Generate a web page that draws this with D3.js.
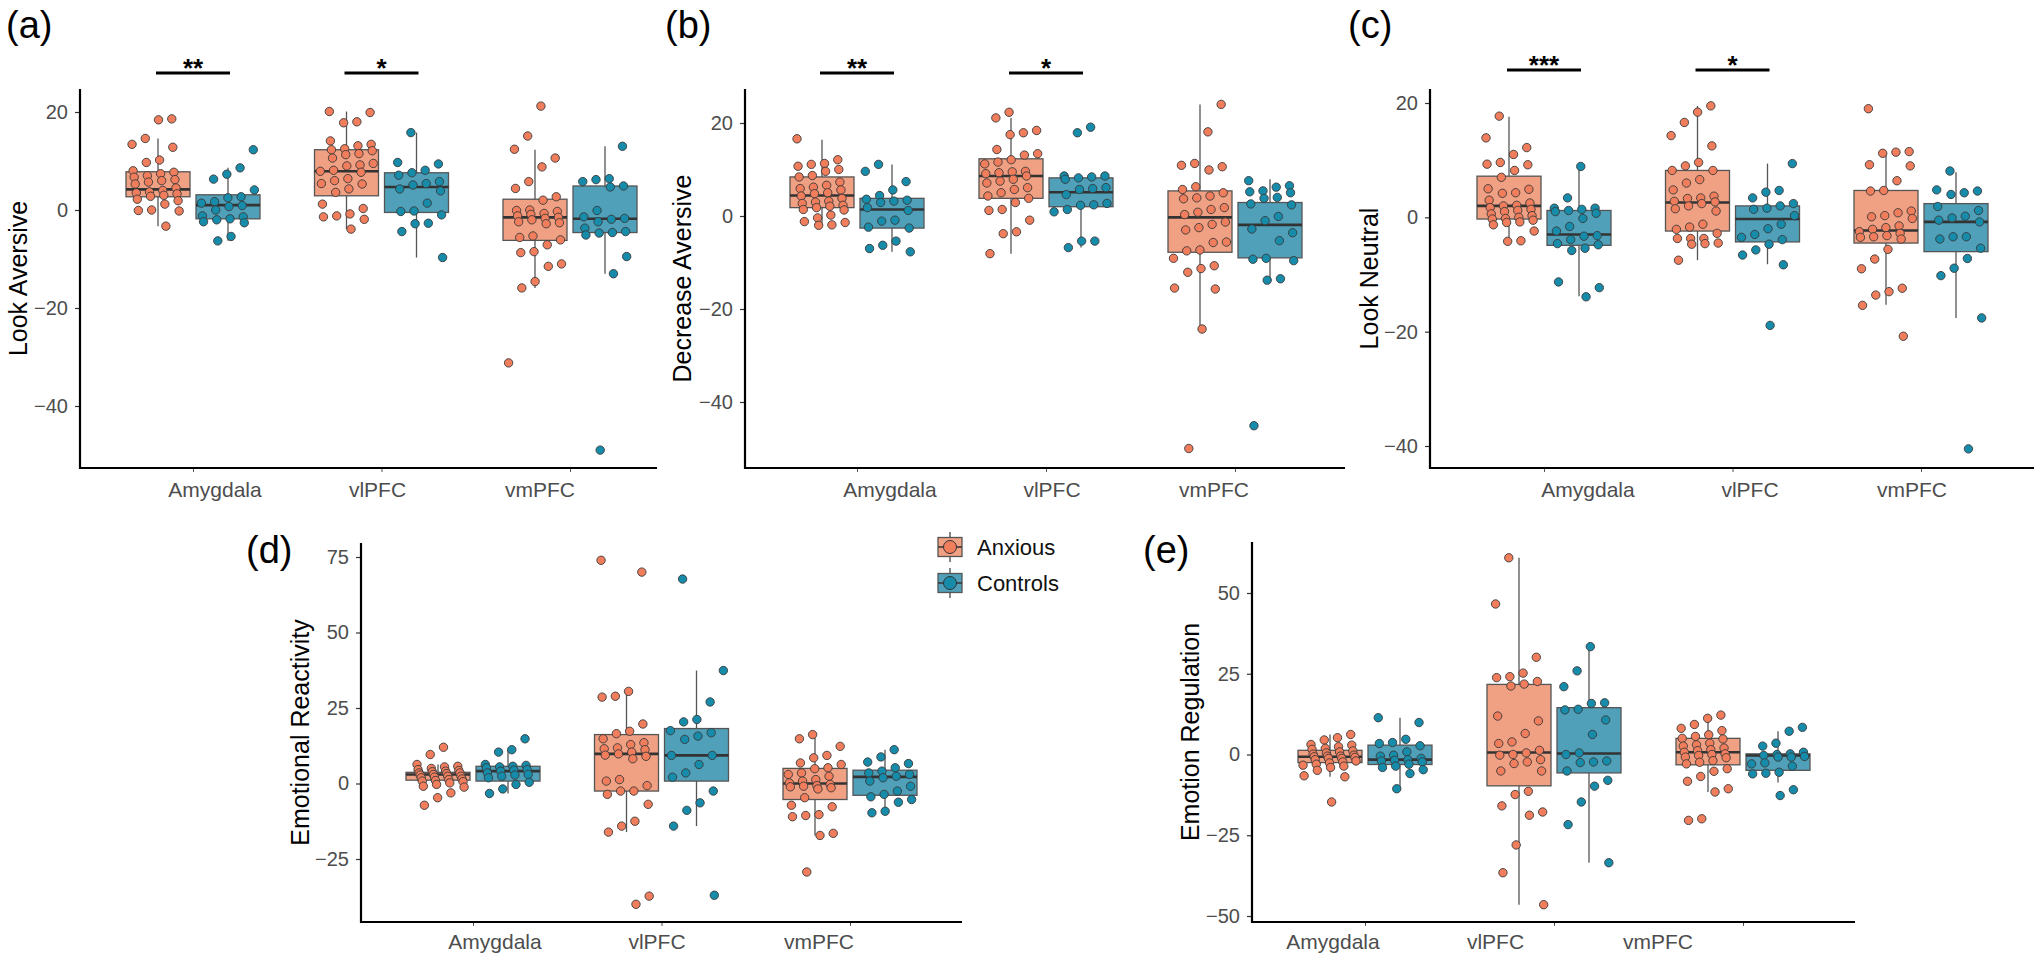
<!DOCTYPE html>
<html><head><meta charset="utf-8">
<script src="https://cdn.jsdelivr.net/npm/d3@7"></script>
<style>body{margin:0;background:#fff;} svg{display:block;} text{font-family:"Liberation Sans", Arial, sans-serif;}</style>
</head><body><svg id="c" width="2040" height="961"></svg>
<script>
// ---------- categories ----------
const regions = ["Amygdala", "vlPFC", "vmPFC"];
const groups = ["Anxious", "Controls"];
const panelLetters = ["(a)", "(b)", "(c)", "(d)", "(e)"];
const yTitles = ["Look Aversive", "Decrease Aversive", "Look Neutral", "Emotional Reactivity", "Emotion Regulation"];
const ticksABC = [20, 0, -20, -40];
const ticksD = [75, 50, 25, 0, -25];
const ticksE = [50, 25, 0, -25, -50];
const sigAB = [["Amygdala", "**"], ["vlPFC", "*"]];
const sigC = [["Amygdala", "***"], ["vlPFC", "*"]];

// ---------- (a) Look Aversive ----------
const a_amy_anx = [18.6, 18.4, 14.6, 13.4, 12.8, 10.2, 9.7, 8.0, 7.7, 7.4, 7.0, 6.7, 6.2, 6.0, 5.7, 5.3, 4.5, 4.0, 3.7, 3.5, 3.3, 3.0, 2.8, 2.2, 1.9, 1.2, 0.0, -0.1, -0.2, -3.3];
const a_amy_ctl = [12.3, 8.6, 7.3, 6.3, 4.1, 2.7, 2.5, 1.7, 1.4, 0.9, 0.7, 0.0, -1.2, -1.4, -1.8, -2.0, -2.4, -2.6, -5.4, -6.3];
const a_vl_anx = [20.1, 19.9, 18.0, 17.8, 14.1, 13.4, 13.1, 12.5, 12.3, 12.1, 11.5, 11.3, 10.6, 9.5, 9.2, 9.0, 8.1, 7.9, 7.7, 6.4, 6.0, 5.4, 5.3, 4.3, 3.6, 1.2, 0.3, -0.8, -1.2, -1.4, -1.9, -3.9];
const a_vl_ctl = [15.8, 9.7, 9.4, 8.1, 7.6, 7.1, 5.8, 5.4, 5.1, 4.3, 3.9, 1.4, -0.2, -0.3, -1.0, -2.7, -2.8, -4.4, -9.7];
const a_vm_anx = [21.2, 15.1, 12.4, 10.6, 8.8, 5.8, 4.4, 2.7, 2.0, 0.0, -0.1, -0.3, -0.7, -0.9, -1.2, -1.5, -1.7, -2.0, -2.4, -2.6, -2.8, -5.3, -5.6, -6.1, -7.1, -8.5, -8.7, -11.0, -11.5, -14.6, -15.9, -31.2];
const a_vm_ctl = [13.0, 6.4, 6.2, 5.8, 4.9, 4.7, -0.1, -1.4, -1.7, -1.9, -2.4, -3.7, -4.4, -4.6, -4.7, -5.1, -9.5, -13.0, -49.0];
// box stats: [lower whisker, Q1, median, Q3, upper whisker] per region
const a_box_anx = [[-3.3, 2.7, 4.2, 7.8, 14.6], [-3.9, 2.9, 7.9, 12.3, 20.1], [-15.9, -6.2, -1.5, 2.2, 12.3]];
const a_box_ctl = [[-6.3, -1.8, 1.0, 3.1, 8.6], [-9.7, -0.5, 4.7, 7.6, 15.8], [-13.0, -4.6, -1.8, 4.9, 13.0]];

// ---------- (b) Decrease Aversive ----------
const b_amy_anx = [16.6, 12.1, 11.3, 11.1, 10.7, 10.0, 9.6, 8.7, 8.4, 7.3, 6.6, 6.2, 5.9, 5.6, 5.0, 4.8, 4.3, 3.8, 3.2, 3.0, 2.7, 2.3, 2.1, 1.8, 1.4, 1.3, 0.2, -0.4, -1.2, -1.4, -1.9, -2.0];
const b_amy_ctl = [11.1, 9.6, 7.4, 5.6, 4.4, 3.6, 3.4, 3.2, 2.9, 1.8, 1.2, -0.9, -1.1, -2.4, -2.6, -5.4, -6.3, -7.0, -7.7];
const b_vl_anx = [22.3, 21.1, 18.4, 17.9, 17.5, 14.3, 13.4, 13.1, 12.1, 11.6, 11.2, 9.6, 9.5, 9.3, 9.1, 8.6, 7.9, 7.5, 7.1, 6.1, 5.7, 5.0, 4.3, 3.8, 2.9, 1.4, 1.2, -0.9, -3.4, -3.8, -8.1];
const b_vl_ctl = [19.1, 17.9, 8.6, 8.6, 8.4, 8.2, 7.9, 6.1, 5.9, 5.7, 4.6, 2.7, 2.4, 2.3, 1.4, 0.9, -5.4, -5.4, -6.8];
const b_vm_anx = [24.0, 18.1, 11.3, 10.9, 10.6, 9.9, 6.3, 5.7, 5.0, 4.3, 3.9, 3.7, 1.8, 1.4, 0.8, 0.3, -1.3, -1.8, -2.5, -3.0, -5.6, -5.7, -7.3, -7.5, -9.1, -10.7, -11.3, -12.1, -15.5, -15.7, -24.3, -50.0];
const b_vm_ctl = [7.6, 6.5, 6.2, 5.4, 5.2, 5.0, 4.0, 3.8, 2.6, 2.4, -0.1, -1.0, -2.8, -3.6, -5.3, -9.1, -9.3, -9.6, -13.5, -13.8, -45.1];
const b_box_anx = [[-2.0, 1.8, 4.4, 8.4, 16.4], [-8.1, 3.8, 8.6, 12.3, 21.1], [-24.3, -7.8, -0.3, 5.4, 24.0]];
const b_box_ctl = [[-7.7, -2.6, 1.4, 3.8, 11.1], [-6.8, 2.0, 5.1, 8.2, 8.6], [-13.8, -9.0, -1.9, 2.9, 7.9]];

// ---------- (c) Look Neutral ----------
const c_amy_anx = [17.7, 13.9, 12.2, 11.0, 9.6, 9.3, 9.2, 8.2, 7.0, 5.0, 4.9, 4.3, 4.2, 3.0, 2.5, 2.1, 2.0, 1.7, 1.4, 1.2, 1.0, 0.6, 0.3, 0.0, -0.2, -0.3, -0.5, -0.8, -0.9, -1.3, -2.4, -4.1, -4.2];
const c_amy_ctl = [8.9, 3.4, 1.6, 1.6, 1.4, 1.2, 1.0, 0.7, -0.2, -1.6, -2.4, -3.2, -3.3, -3.9, -4.6, -4.8, -5.4, -5.8, -11.3, -12.3, -13.9];
const c_vl_anx = [19.5, 18.4, 16.6, 14.3, 12.5, 9.6, 9.0, 8.2, 8.2, 6.6, 6.0, 4.8, 3.7, 3.4, 3.3, 2.8, 2.7, 2.4, 2.0, 1.5, 1.1, -1.2, -1.7, -2.1, -2.8, -3.7, -3.7, -3.7, -4.5, -4.6, -4.7, -7.5];
const c_vl_ctl = [9.4, 4.7, 4.4, 3.4, 2.4, 2.0, 1.6, 1.4, 0.3, -1.2, -2.0, -3.0, -3.5, -3.9, -4.7, -5.7, -6.6, -8.3, -18.9];
const c_vm_anx = [19.0, 11.5, 11.4, 11.2, 9.2, 9.0, 6.4, 4.7, 4.6, 1.1, 0.8, 0.3, 0.1, -0.2, -1.5, -1.8, -2.1, -2.5, -2.8, -3.2, -3.4, -3.5, -3.8, -5.6, -7.3, -9.0, -12.4, -13.0, -13.6, -15.4, -20.8];
const c_vm_ctl = [8.1, 4.8, 4.6, 4.3, 4.0, 1.9, 1.2, 0.2, -0.1, -0.5, -0.8, -3.4, -3.4, -3.8, -5.4, -7.2, -8.9, -10.2, -17.6, -40.5];
const c_box_anx = [[-4.2, -0.3, 2.0, 7.2, 17.6], [-7.5, -2.4, 2.6, 8.2, 19.5], [-15.3, -4.5, -2.3, 4.7, 11.4]];
const c_box_ctl = [[-13.8, -4.9, -3.0, 1.2, 8.8], [-8.2, -4.3, -0.3, 2.0, 9.4], [-17.6, -6.0, -0.8, 2.4, 7.9]];

// ---------- (d) Emotional Reactivity ----------
const d_amy_anx = [12.0, 9.6, 6.3, 5.7, 5.5, 5.0, 4.6, 4.3, 4.1, 3.9, 3.5, 3.5, 3.3, 3.0, 2.8, 2.4, 2.4, 2.1, 1.9, 1.5, 1.3, 1.0, 0.8, 0.6, 0.2, -0.3, -0.9, -1.2, -3.1, -4.7, -7.2];
const d_amy_ctl = [14.8, 11.2, 10.4, 6.3, 6.0, 5.7, 5.5, 5.2, 4.6, 4.4, 4.1, 3.5, 3.0, 2.8, 2.4, 1.9, 0.4, -0.3, -1.8, -3.3];
const d_vl_anx = [73.9, 70.0, 30.5, 28.9, 28.6, 19.7, 17.3, 16.5, 14.8, 13.5, 12.9, 11.8, 11.5, 11.2, 10.4, 9.8, 9.4, 9.0, 8.2, 1.3, 0.8, -0.7, -2.5, -2.5, -3.6, -6.9, -12.5, -14.1, -16.1, -37.3, -40.0];
const d_vl_ctl = [67.7, 37.4, 27.0, 21.2, 20.4, 17.5, 16.8, 15.7, 14.6, 9.3, 9.3, 6.3, 3.5, 2.1, -2.5, -6.4, -8.9, -14.1, -37.0];
const d_vm_anx = [16.2, 14.8, 12.3, 9.3, 8.5, 6.8, 6.3, 5.2, 4.9, 3.5, 3.0, 2.4, 1.3, 0.8, 0.2, -0.3, -0.7, -0.9, -1.1, -1.4, -1.8, -4.7, -7.2, -7.7, -10.3, -10.6, -11.0, -16.5, -17.2, -29.3];
const d_vm_ctl = [11.2, 8.8, 7.1, 6.6, 5.2, 4.1, 3.5, 3.0, 2.4, 1.9, 0.8, -0.9, -2.5, -3.6, -4.4, -5.3, -6.2, -9.2, -9.7];
const d_box_anx = [[-1.2, 1.1, 3.0, 3.7, 6.3], [-16.1, -2.5, 9.8, 16.2, 30.5], [-17.2, -5.3, 0.0, 5.0, 16.2]];
const d_box_ctl = [[-3.3, 0.8, 4.1, 5.7, 11.2], [-14.1, 0.8, 9.3, 18.2, 37.4], [-9.7, -3.9, 2.2, 4.4, 11.2]];

// ---------- (e) Emotion Regulation ----------
const e_amy_anx = [6.2, 5.2, 4.5, 3.1, 2.9, 2.4, 1.9, 1.6, 1.1, 0.8, 0.5, 0.1, -0.2, -0.5, -0.5, -0.7, -0.9, -1.2, -1.2, -1.6, -2.0, -2.3, -2.6, -3.0, -3.3, -3.6, -4.0, -4.9, -6.6, -6.9, -14.7];
const e_amy_ctl = [11.4, 9.9, 4.7, 3.7, 3.4, 2.7, 0.8, -0.2, -0.5, -1.2, -1.6, -1.8, -2.0, -2.3, -3.0, -3.6, -4.0, -4.7, -5.9, -10.6];
const e_vl_anx = [60.9, 46.6, 30.1, 25.2, 24.1, 23.8, 22.6, 21.8, 21.2, 11.9, 10.4, 6.5, 3.9, 3.4, 1.3, 0.5, 0.0, -0.2, -1.6, -2.3, -2.8, -5.1, -5.1, -11.4, -12.4, -15.9, -17.8, -18.8, -28.0, -36.6, -46.5];
const e_vl_ctl = [33.4, 25.9, 21.0, 16.0, 15.8, 14.0, 13.8, 10.7, 6.2, 0.5, 0.0, -2.0, -2.3, -2.5, -5.1, -8.0, -9.8, -14.7, -21.7, -33.5];
const e_vm_anx = [12.2, 11.2, 9.3, 8.1, 7.4, 6.1, 5.6, 5.0, 4.8, 3.5, 3.0, 2.6, 2.0, 1.5, 1.2, 0.7, 0.2, 0.0, -0.3, -0.8, -1.0, -1.9, -2.4, -2.9, -4.4, -5.2, -6.8, -8.3, -10.6, -11.6, -19.9, -20.4];
const e_vm_ctl = [8.4, 7.2, 3.5, 2.6, 0.7, 0.2, 0.0, -0.3, -0.6, -0.8, -0.8, -2.6, -2.9, -3.6, -5.5, -5.8, -6.0, -10.9, -12.7];
const e_box_anx = [[-6.9, -2.5, -0.7, 1.3, 6.2], [-46.5, -9.7, 0.6, 21.7, 60.9], [-11.6, -3.2, 0.7, 5.0, 12.2]];
const e_box_ctl = [[-10.6, -3.1, -1.6, 2.9, 11.4], [-33.5, -5.7, 0.3, 14.5, 33.4], [-8.7, -4.9, -0.3, 0.2, 7.2]];

// ---------- styling ----------
const fillPoint = {Anxious: "#F07D5C", Controls: "#168BAA"};
const fillBox = {Anxious: "#F0A184", Controls: "#50A0BA"};
const tickColor = "#4D4D4D";

// ---------- layout (pixels) ----------
const layout = [
  {axisX: 80, xEnd: 657, top: 89, bottom: 468, yDom: [-40, 20], yPx: [406, 112], c: [193, 570], l: [215, 540], titleX: 18, letterX: 6, letterY: 38, labelY: 497, sigY: 73},
  {axisX: 745, xEnd: 1345, top: 89, bottom: 468, yDom: [-40, 20], yPx: [402, 123], c: [857, 1235], l: [890, 1214], titleX: 682, letterX: 665, letterY: 38, labelY: 497, sigY: 73},
  {axisX: 1430, xEnd: 2034, top: 89, bottom: 468, yDom: [-40, 20], yPx: [446, 103], c: [1544, 1921], l: [1588, 1912], titleX: 1369, letterX: 1348, letterY: 38, labelY: 497, sigY: 70},
  {axisX: 361, xEnd: 962, top: 543, bottom: 922, yDom: [-25, 75], yPx: [859, 557], c: [473, 850], l: [495, 819], titleX: 300, letterX: 246, letterY: 563, labelY: 949},
  {axisX: 1252, xEnd: 1855, top: 542, bottom: 922, yDom: [-50, 50], yPx: [916, 593], c: [1365, 1743], l: [1333, 1658], titleX: 1190, letterX: 1143, letterY: 563, labelY: 949}
];

const panelData = [
  {ticks: ticksABC, sig: sigAB, vals: [[a_amy_anx, a_amy_ctl], [a_vl_anx, a_vl_ctl], [a_vm_anx, a_vm_ctl]], box: [a_box_anx, a_box_ctl]},
  {ticks: ticksABC, sig: sigAB, vals: [[b_amy_anx, b_amy_ctl], [b_vl_anx, b_vl_ctl], [b_vm_anx, b_vm_ctl]], box: [b_box_anx, b_box_ctl]},
  {ticks: ticksABC, sig: sigC, vals: [[c_amy_anx, c_amy_ctl], [c_vl_anx, c_vl_ctl], [c_vm_anx, c_vm_ctl]], box: [c_box_anx, c_box_ctl]},
  {ticks: ticksD, sig: [], vals: [[d_amy_anx, d_amy_ctl], [d_vl_anx, d_vl_ctl], [d_vm_anx, d_vm_ctl]], box: [d_box_anx, d_box_ctl]},
  {ticks: ticksE, sig: [], vals: [[e_amy_anx, e_amy_ctl], [e_vl_anx, e_vl_ctl], [e_vm_anx, e_vm_ctl]], box: [e_box_anx, e_box_ctl]}
];

const svg = d3.select("#c");
const boxW = 64, jitterW = 27;

panelData.forEach((pd, pi) => {
  const L = layout[pi];
  const g = svg.append("g");
  const y = d3.scaleLinear().domain(L.yDom).range(L.yPx);
  const x = d3.scalePoint().domain(regions).range(L.c);
  const dx = d3.scalePoint().domain(groups).range([-35, 35]);
  const xl = d3.scalePoint().domain(regions).range(L.l);

  // y axis ticks
  const ya = g.append("g").attr("transform", `translate(${L.axisX},0)`)
    .call(d3.axisLeft(y).tickValues(pd.ticks).tickSize(5).tickPadding(7).tickFormat(d3.format("d")));
  ya.select(".domain").remove();
  ya.selectAll(".tick line").attr("stroke", "#333").attr("stroke-width", 1.2);
  ya.selectAll(".tick text").attr("font-size", 20).attr("fill", tickColor)
    .attr("font-family", "Liberation Sans, Arial, sans-serif");

  // x axis ticks
  const xa = g.append("g").attr("transform", `translate(0,${L.bottom})`)
    .call(d3.axisBottom(x).tickSize(4).tickFormat(""));
  xa.select(".domain").remove();
  xa.selectAll(".tick line").attr("stroke", "#555").attr("stroke-width", 1);

  // axis lines
  g.append("line").attr("x1", L.axisX).attr("x2", L.axisX).attr("y1", L.top).attr("y2", L.bottom + 1)
    .attr("stroke", "#000").attr("stroke-width", 2.2);
  g.append("line").attr("x1", L.axisX - 1).attr("x2", L.xEnd).attr("y1", L.bottom).attr("y2", L.bottom)
    .attr("stroke", "#000").attr("stroke-width", 2.2);

  // x labels
  g.selectAll("text.xl").data(regions).enter().append("text")
    .attr("x", d => xl(d)).attr("y", L.labelY).attr("text-anchor", "middle")
    .attr("font-size", 21).attr("fill", tickColor).text(d => d);

  // y title
  g.append("text").attr("transform", `translate(${L.titleX},${(L.top + L.bottom) / 2}) rotate(-90)`)
    .attr("text-anchor", "middle").attr("dominant-baseline", "central")
    .attr("font-size", 25).attr("fill", "#000").text(yTitles[pi]);

  // panel letter
  g.append("text").attr("x", L.letterX).attr("y", L.letterY).attr("font-size", 38).attr("fill", "#000").text(panelLetters[pi]);

  // boxes
  regions.forEach((r, ri) => {
    groups.forEach((gr, gi) => {
      const s = pd.box[gi][ri];
      const cx = x(r) + dx(gr);
      g.append("line").attr("x1", cx).attr("x2", cx).attr("y1", y(s[4])).attr("y2", y(s[0]))
        .attr("stroke", "#555").attr("stroke-width", 1.3);
      g.append("rect").attr("x", cx - boxW / 2).attr("width", boxW)
        .attr("y", y(s[3])).attr("height", Math.max(1, y(s[1]) - y(s[3])))
        .attr("fill", fillBox[gr]).attr("stroke", "#555").attr("stroke-width", 1.3);
      g.append("line").attr("x1", cx - boxW / 2).attr("x2", cx + boxW / 2).attr("y1", y(s[2])).attr("y2", y(s[2]))
        .attr("stroke", "#333").attr("stroke-width", 2.6);
    });
  });

  // points (deterministic jitter)
  regions.forEach((r, ri) => {
    groups.forEach((gr, gi) => {
      const vals = pd.vals[ri][gi];
      const seed = (pi * 6 + ri * 2 + gi) * 0.2137;
      g.selectAll(null).data(vals).enter().append("circle")
        .attr("cx", (v, i) => x(r) + dx(gr) + ((((i + 1) * 0.7548776662 + seed) % 1) - 0.5) * 2 * jitterW)
        .attr("cy", v => y(v)).attr("r", 4.2)
        .attr("fill", fillPoint[gr]).attr("stroke", "#3a3a3a").attr("stroke-width", 0.9);
    });
  });

  // significance bars
  pd.sig.forEach(([r, label]) => {
    const cx = x(r);
    g.append("line").attr("x1", cx - 37).attr("x2", cx + 37).attr("y1", L.sigY).attr("y2", L.sigY)
      .attr("stroke", "#000").attr("stroke-width", 3);
    g.append("text").attr("x", cx).attr("y", L.sigY + 4).attr("text-anchor", "middle")
      .attr("font-size", 26).attr("font-weight", "bold").attr("fill", "#000").text(label);
  });
});

// legend
const leg = svg.append("g");
const legY = d3.scalePoint().domain(groups).range([547, 583]);
groups.forEach(gr => {
  const cy = legY(gr);
  leg.append("line").attr("x1", 950).attr("x2", 950).attr("y1", cy - 15).attr("y2", cy + 15).attr("stroke", "#444").attr("stroke-width", 1.3);
  leg.append("rect").attr("x", 938).attr("y", cy - 9.5).attr("width", 24).attr("height", 19)
    .attr("fill", fillBox[gr]).attr("stroke", "#555").attr("stroke-width", 1.3);
  leg.append("line").attr("x1", 938).attr("x2", 962).attr("y1", cy).attr("y2", cy).attr("stroke", "#333").attr("stroke-width", 1.5);
  leg.append("circle").attr("cx", 950).attr("cy", cy).attr("r", 6.5).attr("fill", fillPoint[gr]).attr("stroke", "#333").attr("stroke-width", 1);
  leg.append("text").attr("x", 977).attr("y", cy + 8).attr("font-size", 22).attr("fill", "#111").text(gr);
});
</script></body></html>
